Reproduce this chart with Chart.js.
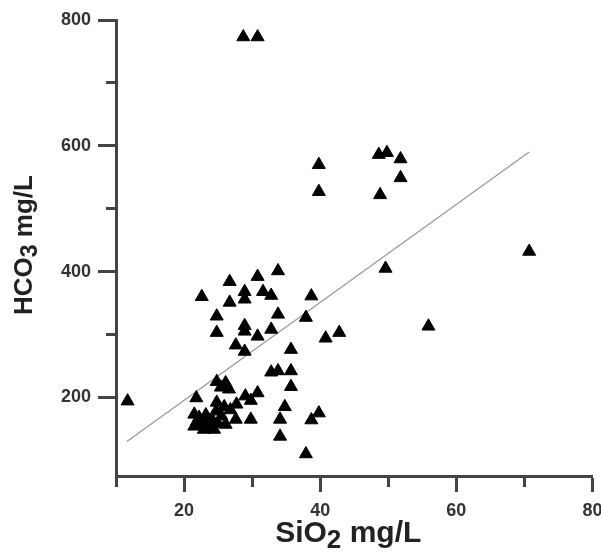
<!DOCTYPE html>
<html>
<head>
<meta charset="utf-8">
<script src="https://cdn.jsdelivr.net/npm/chart.js@4"></script>
<style>
  html, body { margin: 0; padding: 0; background: #fff; }
  #grafico { display: block; }
</style>
</head>
<body>
<canvas id="grafico" width="601" height="554"></canvas>
<script>
// SiO2 x HCO3 (mg/L) - dispersão das amostras com reta de tendência

// Sílica (eixo x)
const sio2 = [
  28.7, 30.8,
  39.8, 39.8, 48.6, 49.8, 51.8, 51.8, 48.8,
  70.7, 49.6, 55.9,
  33.8, 30.8, 26.7, 22.6, 28.9, 28.9, 31.6, 32.8, 26.7, 38.7,
  24.8, 33.8, 37.9, 24.8, 28.9, 28.9, 30.8, 32.8, 27.6, 28.9, 35.7, 40.8, 42.8,
  32.8, 33.8, 35.7, 35.7, 34.8, 34.1, 39.8, 38.7, 34.1, 37.9,
  11.7, 21.8,
  24.8, 26.1, 26.6, 25.4, 29.0, 30.8, 29.8, 27.7, 24.8,
  24.7, 21.5, 22.2, 21.5, 22.9, 24.1, 25.5, 26.1, 27.6, 29.8, 24.4, 22.9,
  23.2, 26.8, 25.0, 22.3, 23.8, 25.9, 23.5, 21.9
];

// Bicarbonato (eixo y)
const hco3 = [
  773, 773,
  570, 527, 586, 589, 579, 549, 522,
  432, 405, 313,
  401, 392, 384, 360, 368, 356, 368, 362, 351, 361,
  329, 332, 327, 303, 314, 305, 297, 308, 283, 273, 276, 294, 303,
  240, 242, 242, 217, 185, 165, 175, 164, 138, 110,
  194, 199,
  225, 223, 213, 216, 202, 207, 195, 189, 192,
  178, 173, 168, 154, 160, 165, 170, 157, 165, 165, 149, 149,
  172, 180, 158, 158, 155, 185, 163, 162
];

// Reta de tendência (extremos)
const tendenciaX = [11.6, 70.7];
const tendenciaY = [130, 590];

// Marcas com rótulo
const ticksX = [20, 40, 60, 80];
const ticksY = [200, 400, 600, 800];

const corEixo = "#444";
const fonteEixo = "'Liberation Sans', Arial, sans-serif";

// Escreve texto com subscrito: partes = [antes, sub, depois]
function textoSubscrito(ctx, partes, cx, base, tam, subTam, desloc) {
  const fNormal = `bold ${tam}px ${fonteEixo}`;
  const fSub = `bold ${subTam}px ${fonteEixo}`;
  ctx.font = fNormal;
  const w1 = ctx.measureText(partes[0]).width;
  const w3 = ctx.measureText(partes[2]).width;
  ctx.font = fSub;
  const w2 = ctx.measureText(partes[1]).width;
  let x = cx - (w1 + w2 + w3) / 2;
  ctx.textAlign = "left";
  ctx.textBaseline = "alphabetic";
  ctx.font = fNormal;
  ctx.fillText(partes[0], x, base);
  x += w1;
  ctx.font = fSub;
  ctx.fillText(partes[1], x, base + desloc);
  x += w2;
  ctx.font = fNormal;
  ctx.fillText(partes[2], x, base);
}

const titulosEixos = {
  id: "titulosEixos",
  afterDraw(chart) {
    const { ctx, chartArea } = chart;
    ctx.save();
    ctx.fillStyle = "#222";
    // eixo x
    const cx = (chartArea.left + chartArea.right) / 2;
    textoSubscrito(ctx, ["SiO", "2", " mg/L"], cx - 6, chart.height - 12, 30, 26, 6);
    // eixo y (rotacionado)
    const cy = (chartArea.top + chartArea.bottom) / 2;
    ctx.translate(32, cy - 3);
    ctx.rotate(-Math.PI / 2);
    textoSubscrito(ctx, ["HCO", "3", " mg/L"], 0, 0, 26, 23, 5);
    ctx.restore();
  }
};

const pontos = sio2.map((x, i) => ({ x: x, y: hco3[i] }));
const reta = tendenciaX.map((x, i) => ({ x: x, y: tendenciaY[i] }));

new Chart(document.getElementById("grafico"), {
  type: "scatter",
  data: {
    datasets: [
      {
        label: "Amostras",
        data: pontos,
        pointStyle: "triangle",
        pointRadius: 7.5,
        pointBackgroundColor: "#000",
        pointBorderColor: "#000",
        pointBorderWidth: 1,
        order: 1
      },
      {
        label: "Tendência",
        type: "line",
        data: reta,
        borderColor: "#9a9a9a",
        borderWidth: 1.3,
        pointRadius: 0,
        fill: false,
        order: 2
      }
    ]
  },
  plugins: [titulosEixos],
  options: {
    responsive: false,
    animation: false,
    layout: { padding: { top: 20, right: 5, bottom: 0, left: 0 } },
    plugins: {
      legend: { display: false },
      tooltip: { enabled: false }
    },
    scales: {
      x: {
        type: "linear",
        min: 10,
        max: 80,
        afterFit: axis => {
          axis.height = 78;
          axis.paddingLeft = 0;
          axis.paddingRight = 0;
        },
        border: { display: true, color: corEixo, width: 3 },
        grid: {
          drawOnChartArea: false,
          drawTicks: true,
          tickLength: 16,
          tickWidth: 3,
          tickColor: corEixo,
          tickBorderDash: ctx => ticksX.includes(ctx.tick.value) ? [] : [9, 100]
        },
        ticks: {
          stepSize: 10,
          autoSkip: false,
          maxRotation: 0,
          padding: 8,
          color: "#333",
          font: { family: fonteEixo, size: 18, weight: "bold" },
          callback: v => ticksX.includes(v) ? v : ""
        }
      },
      y: {
        type: "linear",
        min: 75,
        max: 800,
        afterBuildTicks: axis => {
          axis.ticks = axis.ticks.filter(t => t.value >= 100);
        },
        afterFit: axis => {
          axis.width = 116;
          axis.paddingTop = 0;
          axis.paddingBottom = 0;
        },
        border: { display: true, color: corEixo, width: 3 },
        grid: {
          drawOnChartArea: false,
          drawTicks: true,
          tickLength: 18,
          tickWidth: 3,
          tickColor: corEixo,
          tickBorderDash: ctx => ticksY.includes(ctx.tick.value) ? [] : [0, 8, 10, 100]
        },
        ticks: {
          stepSize: 100,
          autoSkip: false,
          padding: 7,
          color: "#333",
          font: { family: fonteEixo, size: 18, weight: "bold" },
          callback: v => ticksY.includes(v) ? v : ""
        }
      }
    }
  }
});
</script>
</body>
</html>
